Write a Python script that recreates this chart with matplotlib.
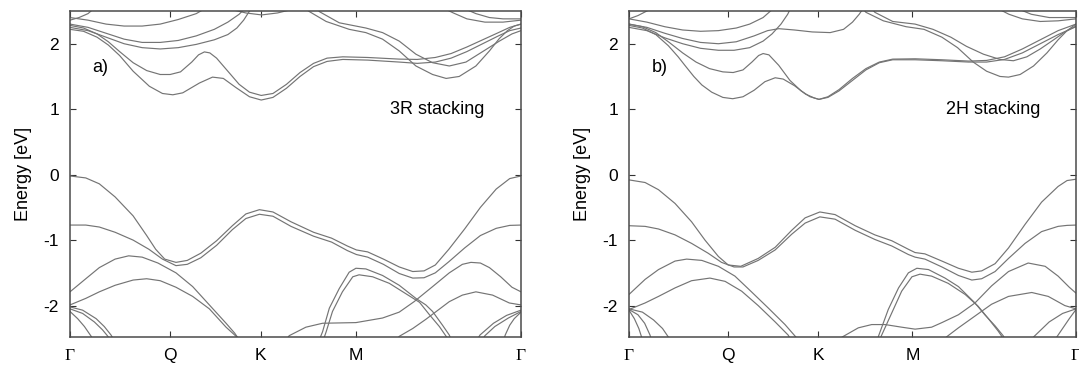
import matplotlib
matplotlib.use("Agg")
import matplotlib.pyplot as plt

plt.rcParams['font.family'] = ['Liberation Sans', 'DejaVu Sans']

# ---------------- data: k (fraction of path Γ-Q-K-M-Γ), energy (eV) ----------------
k_ticks = [0.0, 0.222, 0.4226, 0.634, 1.0]
k_labels = ['Γ', 'Q', 'K', 'M', 'Γ']

# ===== 3R stacking =====
r_v1 = [(0,-0.02),(0.035,-0.05),(0.065,-0.14),(0.10,-0.34),(0.14,-0.63),(0.17,-0.93),(0.19,-1.14),(0.21,-1.29),(0.235,-1.34),(0.26,-1.31),(0.29,-1.2),(0.325,-1.01),(0.36,-0.78),(0.39,-0.60),(0.42,-0.535),(0.45,-0.57),(0.49,-0.72),(0.54,-0.88),(0.58,-0.97),(0.615,-1.09),(0.635,-1.15),(0.66,-1.18),(0.695,-1.29),(0.73,-1.41),(0.76,-1.48),(0.785,-1.47),(0.81,-1.38),(0.84,-1.14),(0.875,-0.83),(0.91,-0.50),(0.945,-0.22),(0.975,-0.06),(1.0,-0.02)]
r_v2 = [(0,-0.77),(0.035,-0.77),(0.065,-0.80),(0.10,-0.88),(0.14,-1.0),(0.175,-1.14),(0.205,-1.29),(0.235,-1.39),(0.26,-1.37),(0.29,-1.27),(0.325,-1.08),(0.36,-0.84),(0.39,-0.67),(0.42,-0.605),(0.45,-0.635),(0.49,-0.79),(0.54,-0.94),(0.58,-1.03),(0.615,-1.16),(0.635,-1.22),(0.66,-1.26),(0.695,-1.37),(0.73,-1.51),(0.76,-1.58),(0.785,-1.575),(0.81,-1.5),(0.84,-1.33),(0.875,-1.12),(0.91,-0.93),(0.945,-0.82),(0.975,-0.775),(1.0,-0.77)]
r_v3 = [(0,-1.79),(0.035,-1.59),(0.065,-1.42),(0.10,-1.29),(0.13,-1.24),(0.16,-1.26),(0.195,-1.35),(0.235,-1.50),(0.272,-1.71),(0.309,-1.99),(0.346,-2.27),(0.365,-2.42),(0.375,-2.52)]
r_v4 = [(0,-1.99),(0.035,-1.89),(0.065,-1.79),(0.10,-1.69),(0.14,-1.61),(0.17,-1.59),(0.20,-1.62),(0.235,-1.72),(0.272,-1.86),(0.309,-2.05),(0.346,-2.33),(0.37,-2.48),(0.378,-2.55)]
r_a1 = [(0,-2.02),(0.028,-2.07),(0.058,-2.2),(0.076,-2.32),(0.091,-2.45),(0.097,-2.52)]
r_a2 = [(0,-2.05),(0.028,-2.12),(0.054,-2.25),(0.072,-2.37),(0.084,-2.47),(0.088,-2.52)]
r_a3 = [(0,-2.09),(0.017,-2.2),(0.032,-2.32),(0.047,-2.47),(0.05,-2.52)]
r_a4 = [(1.0,-2.07),(0.968,-2.15),(0.939,-2.27),(0.909,-2.45),(0.903,-2.52)]
r_a5 = [(1.0,-2.09),(0.972,-2.19),(0.942,-2.32),(0.92,-2.46),(0.915,-2.52)]
r_a6 = [(1.0,-2.10),(0.985,-2.2),(0.975,-2.3),(0.965,-2.45),(0.962,-2.52)]
r_m1 = [(0.553,-2.52),(0.56,-2.40),(0.575,-2.04),(0.597,-1.74),(0.619,-1.49),(0.634,-1.43),(0.656,-1.44),(0.693,-1.54),(0.73,-1.69),(0.767,-1.89),(0.789,-1.99),(0.804,-2.09),(0.826,-2.3),(0.841,-2.45),(0.845,-2.52)]
r_m2 = [(0.562,-2.52),(0.568,-2.40),(0.582,-2.09),(0.604,-1.79),(0.627,-1.56),(0.641,-1.53),(0.671,-1.56),(0.708,-1.66),(0.745,-1.82),(0.775,-1.95),(0.797,-2.14),(0.819,-2.32),(0.834,-2.47),(0.838,-2.52)]
r_f1 = [(0.48,-2.52),(0.486,-2.46),(0.523,-2.33),(0.56,-2.27),(0.634,-2.26),(0.693,-2.19),(0.73,-2.1),(0.763,-1.94),(0.804,-1.71),(0.841,-1.5),(0.87,-1.37),(0.889,-1.34),(0.91,-1.35),(0.93,-1.42),(0.955,-1.56),(0.98,-1.72),(1.0,-1.79)]
r_f2 = [(0.725,-2.52),(0.73,-2.47),(0.76,-2.35),(0.789,-2.21),(0.841,-1.94),(0.87,-1.84),(0.9,-1.79),(0.937,-1.84),(0.974,-1.96),(1.0,-1.99)]
r_c1 = [(0,2.22),(0.03,2.19),(0.06,2.1),(0.085,1.98),(0.11,1.82),(0.14,1.58),(0.176,1.35),(0.205,1.24),(0.228,1.22),(0.25,1.25),(0.287,1.40),(0.316,1.49),(0.34,1.47),(0.368,1.33),(0.398,1.19),(0.424,1.14),(0.45,1.18),(0.48,1.32),(0.51,1.50),(0.54,1.65),(0.57,1.73),(0.605,1.76),(0.66,1.75),(0.73,1.72),(0.77,1.70),(0.81,1.72),(0.845,1.78),(0.88,1.88),(0.915,2.0),(0.95,2.12),(0.975,2.2),(1.0,2.24)]
r_c2 = [(0,2.28),(0.03,2.24),(0.06,2.15),(0.085,2.03),(0.11,1.88),(0.14,1.71),(0.17,1.59),(0.2,1.53),(0.222,1.53),(0.245,1.57),(0.27,1.72),(0.285,1.83),(0.298,1.875),(0.31,1.86),(0.325,1.78),(0.35,1.58),(0.375,1.38),(0.398,1.26),(0.424,1.21),(0.45,1.24),(0.48,1.38),(0.51,1.56),(0.54,1.70),(0.57,1.78),(0.605,1.80),(0.66,1.79),(0.73,1.765),(0.77,1.76),(0.81,1.79),(0.845,1.85),(0.88,1.95),(0.915,2.06),(0.95,2.17),(0.975,2.25),(1.0,2.30)]
r_ta = [(0,2.25),(0.04,2.2),(0.08,2.1),(0.12,2.0),(0.16,1.94),(0.2,1.92),(0.24,1.94),(0.28,1.99),(0.32,2.06),(0.35,2.14),(0.37,2.24),(0.385,2.36),(0.4,2.52)]
r_tb = [(0,2.30),(0.04,2.25),(0.08,2.16),(0.12,2.07),(0.16,2.02),(0.2,2.02),(0.24,2.05),(0.28,2.12),(0.32,2.22),(0.35,2.33),(0.375,2.45),(0.385,2.52)]
r_tc = [(0,2.40),(0.04,2.36),(0.08,2.30),(0.12,2.27),(0.16,2.27),(0.2,2.30),(0.24,2.37),(0.28,2.46),(0.295,2.52)]
r_td = [(0,2.36),(0.02,2.4),(0.04,2.46),(0.05,2.52)]
r_tk = [(0.36,2.52),(0.39,2.47),(0.425,2.44),(0.46,2.47),(0.49,2.52)]
r_d1 = [(0.525,2.52),(0.531,2.49),(0.568,2.34),(0.619,2.22),(0.656,2.17),(0.693,2.07),(0.73,1.89),(0.767,1.66),(0.804,1.53),(0.834,1.47),(0.863,1.5),(0.9,1.66),(0.93,1.89),(0.952,2.08),(0.97,2.2),(0.985,2.27),(1.0,2.3)]
r_d2 = [(0.55,2.52),(0.553,2.49),(0.597,2.32),(0.656,2.24),(0.693,2.17),(0.73,2.04),(0.767,1.84),(0.804,1.71),(0.841,1.66),(0.878,1.72),(0.915,1.88),(0.952,2.04),(0.98,2.15),(1.0,2.2)]
r_e1 = [(0.835,2.52),(0.85,2.47),(0.88,2.38),(0.92,2.33),(0.96,2.33),(1.0,2.36)]
r_e2 = [(0.88,2.52),(0.9,2.46),(0.93,2.4),(0.96,2.38),(1.0,2.38)]

# ===== 2H stacking =====
h_v1 = [(0,-0.08),(0.036,-0.12),(0.066,-0.23),(0.103,-0.44),(0.14,-0.72),(0.17,-1.0),(0.2,-1.25),(0.222,-1.38),(0.25,-1.40),(0.289,-1.28),(0.327,-1.11),(0.364,-0.85),(0.394,-0.66),(0.427,-0.57),(0.461,-0.61),(0.506,-0.78),(0.55,-0.92),(0.588,-1.01),(0.625,-1.14),(0.64,-1.19),(0.662,-1.21),(0.7,-1.32),(0.737,-1.43),(0.767,-1.49),(0.789,-1.47),(0.819,-1.36),(0.849,-1.12),(0.886,-0.76),(0.923,-0.42),(0.96,-0.18),(0.98,-0.09),(1.0,-0.07)]
h_v2 = [(0,-0.78),(0.036,-0.79),(0.066,-0.83),(0.103,-0.92),(0.14,-1.05),(0.177,-1.2),(0.207,-1.34),(0.235,-1.41),(0.255,-1.41),(0.289,-1.31),(0.327,-1.15),(0.364,-0.91),(0.394,-0.74),(0.427,-0.645),(0.461,-0.68),(0.506,-0.85),(0.55,-0.99),(0.588,-1.09),(0.625,-1.22),(0.64,-1.26),(0.662,-1.29),(0.7,-1.41),(0.737,-1.54),(0.767,-1.61),(0.789,-1.59),(0.819,-1.48),(0.849,-1.28),(0.886,-1.05),(0.923,-0.87),(0.96,-0.79),(0.98,-0.775),(1.0,-0.77)]
h_v3 = [(0,-1.83),(0.036,-1.6),(0.066,-1.45),(0.103,-1.32),(0.129,-1.29),(0.163,-1.31),(0.2,-1.4),(0.237,-1.55),(0.274,-1.79),(0.312,-2.04),(0.349,-2.29),(0.372,-2.47),(0.378,-2.52)]
h_v4 = [(0,-2.06),(0.036,-1.96),(0.066,-1.86),(0.103,-1.73),(0.14,-1.62),(0.181,-1.58),(0.215,-1.63),(0.252,-1.78),(0.289,-2.0),(0.327,-2.25),(0.356,-2.45),(0.362,-2.52)]
h_a1 = [(0,-2.05),(0.03,-2.1),(0.055,-2.22),(0.075,-2.35),(0.088,-2.48),(0.09,-2.52)]
h_a2 = [(0,-2.06),(0.02,-2.14),(0.035,-2.27),(0.047,-2.45),(0.05,-2.52)]
h_a3 = [(0,-2.07),(0.012,-2.2),(0.022,-2.35),(0.03,-2.52)]
h_a4 = [(1.0,-2.05),(0.97,-2.12),(0.94,-2.25),(0.905,-2.48),(0.9,-2.52)]
h_a5 = [(1.0,-2.06),(0.985,-2.2),(0.97,-2.35),(0.957,-2.48),(0.954,-2.52)]
h_m1 = [(0.556,-2.52),(0.558,-2.47),(0.58,-2.06),(0.603,-1.73),(0.625,-1.5),(0.644,-1.43),(0.67,-1.45),(0.707,-1.58),(0.737,-1.71),(0.774,-1.96),(0.796,-2.14),(0.819,-2.31),(0.837,-2.46),(0.842,-2.52)]
h_m2 = [(0.562,-2.52),(0.564,-2.47),(0.588,-2.11),(0.61,-1.78),(0.633,-1.56),(0.651,-1.52),(0.677,-1.55),(0.714,-1.66),(0.752,-1.83),(0.781,-2.01),(0.804,-2.2),(0.826,-2.39),(0.834,-2.47),(0.837,-2.52)]
h_f1 = [(0.472,-2.52),(0.477,-2.48),(0.513,-2.34),(0.543,-2.29),(0.573,-2.29),(0.61,-2.33),(0.64,-2.36),(0.677,-2.33),(0.7,-2.26),(0.737,-2.14),(0.774,-1.96),(0.811,-1.7),(0.849,-1.48),(0.893,-1.35),(0.931,-1.4),(0.96,-1.55),(0.985,-1.72),(1.0,-1.81)]
h_f2 = [(0.705,-2.52),(0.71,-2.48),(0.737,-2.34),(0.774,-2.16),(0.811,-1.98),(0.849,-1.86),(0.901,-1.8),(0.938,-1.86),(0.975,-2.0),(1.0,-2.05)]
h_c1 = [(0,2.28),(0.03,2.24),(0.06,2.14),(0.088,1.97),(0.11,1.8),(0.125,1.67),(0.145,1.5),(0.163,1.37),(0.185,1.26),(0.21,1.18),(0.232,1.16),(0.255,1.19),(0.28,1.29),(0.304,1.42),(0.327,1.48),(0.345,1.46),(0.37,1.36),(0.395,1.23),(0.415,1.17),(0.425,1.15),(0.445,1.18),(0.47,1.28),(0.5,1.44),(0.53,1.6),(0.56,1.71),(0.59,1.755),(0.64,1.755),(0.70,1.74),(0.76,1.72),(0.8,1.72),(0.84,1.76),(0.88,1.86),(0.92,2.0),(0.96,2.14),(1.0,2.26)]
h_c2 = [(0,2.3),(0.03,2.26),(0.06,2.17),(0.09,2.02),(0.12,1.86),(0.15,1.72),(0.18,1.62),(0.21,1.57),(0.233,1.56),(0.255,1.6),(0.275,1.72),(0.29,1.82),(0.3,1.85),(0.313,1.83),(0.335,1.67),(0.36,1.44),(0.385,1.28),(0.405,1.19),(0.425,1.15),(0.445,1.19),(0.47,1.30),(0.5,1.47),(0.53,1.62),(0.56,1.72),(0.59,1.765),(0.64,1.77),(0.70,1.755),(0.76,1.735),(0.8,1.745),(0.84,1.80),(0.88,1.92),(0.92,2.06),(0.96,2.2),(1.0,2.3)]
h_ta = [(0,2.25),(0.04,2.2),(0.08,2.09),(0.12,2.0),(0.16,1.93),(0.2,1.9),(0.235,1.9),(0.27,1.94),(0.3,2.04),(0.32,2.15),(0.34,2.3),(0.355,2.45),(0.36,2.52)]
h_tb = [(0,2.3),(0.04,2.25),(0.08,2.16),(0.12,2.08),(0.16,2.02),(0.2,2.0),(0.24,2.03),(0.28,2.12),(0.31,2.2),(0.335,2.23),(0.37,2.21),(0.41,2.18),(0.45,2.17),(0.48,2.22),(0.5,2.33),(0.515,2.45),(0.522,2.52)]
h_tc = [(0,2.38),(0.04,2.33),(0.08,2.26),(0.12,2.21),(0.16,2.19),(0.2,2.2),(0.24,2.24),(0.27,2.3),(0.3,2.4),(0.32,2.52)]
h_td = [(0,2.38),(0.02,2.43),(0.04,2.5),(0.045,2.52)]
h_d1 = [(0.525,2.52),(0.53,2.48),(0.569,2.35),(0.62,2.26),(0.66,2.22),(0.70,2.1),(0.735,1.94),(0.77,1.72),(0.8,1.58),(0.83,1.5),(0.849,1.49),(0.875,1.53),(0.905,1.66),(0.935,1.86),(0.96,2.06),(0.98,2.2),(1.0,2.3)]
h_d2 = [(0.545,2.52),(0.55,2.48),(0.59,2.34),(0.64,2.3),(0.68,2.22),(0.72,2.1),(0.755,1.96),(0.793,1.84),(0.83,1.76),(0.86,1.74),(0.89,1.8),(0.92,1.92),(0.95,2.06),(0.975,2.18),(1.0,2.27)]
h_e1 = [(0.83,2.52),(0.85,2.45),(0.88,2.38),(0.92,2.34),(0.96,2.35),(1.0,2.38)]
h_e2 = [(0.875,2.52),(0.9,2.45),(0.94,2.4),(0.97,2.4),(1.0,2.4)]

bands_3r = [r_v1, r_v2, r_v3, r_v4, r_a1, r_a2, r_a3, r_a4, r_a5, r_a6, r_m1, r_m2,
            r_f1, r_f2, r_c1, r_c2, r_ta, r_tb, r_tc, r_td, r_tk, r_d1, r_d2, r_e1, r_e2]
bands_2h = [h_v1, h_v2, h_v3, h_v4, h_a1, h_a2, h_a3, h_a4, h_a5, h_m1, h_m2,
            h_f1, h_f2, h_c1, h_c2, h_ta, h_tb, h_tc, h_td, h_d1, h_d2, h_e1, h_e2]

panel_tags = ['a)', 'b)']
panel_titles = ['3R stacking', '2H stacking']

# ---------------- figure ----------------
W, H = 1079, 367
fig = plt.figure(figsize=(W / 100, H / 100), dpi=100)
ax1 = fig.add_axes([70 / W, 1 - 337 / H, 451 / W, 326 / H])
ax2 = fig.add_axes([629 / W, 1 - 337 / H, 447 / W, 326 / H])

line_color = '#747474'
for ax, bands, tag, title in zip([ax1, ax2], [bands_3r, bands_2h], panel_tags, panel_titles):
    for b in bands:
        ks = [p[0] for p in b]
        es = [p[1] for p in b]
        ax.plot(ks, es, color=line_color, lw=0.85, solid_capstyle='round')
    ax.set_xlim(0, 1)
    ax.set_ylim(-2.48, 2.5)
    ax.set_yticks([-2, -1, 0, 1, 2])
    ax.set_yticklabels(['-2', '-1', '0', '1', '2'])
    ax.set_xticks(k_ticks)
    ax.set_xticklabels(k_labels)
    for lab in ax.get_xticklabels():
        if lab.get_text() == 'Γ':
            lab.set_fontfamily(['Liberation Serif', 'DejaVu Serif'])
            lab.set_fontsize(14)
    ax.tick_params(direction='in', length=4, width=0.8, top=True, right=True,
                   labelsize=12.5, colors='#333333', labelcolor='black')
    ax.tick_params(axis='y', pad=8)
    ax.tick_params(axis='x', pad=8)
    for sp in ax.spines.values():
        sp.set_color('#4a4a4a')
        sp.set_linewidth(1.1)
    ax.set_ylabel('Energy [eV]', fontsize=13, labelpad=8)
    ax.text(0.05, 1.63, tag, ha='left', va='center', fontsize=13)
    ax.text(0.815, 1.0, title, ha='center', va='center', fontsize=13)

fig.savefig('out.png', dpi=100)
